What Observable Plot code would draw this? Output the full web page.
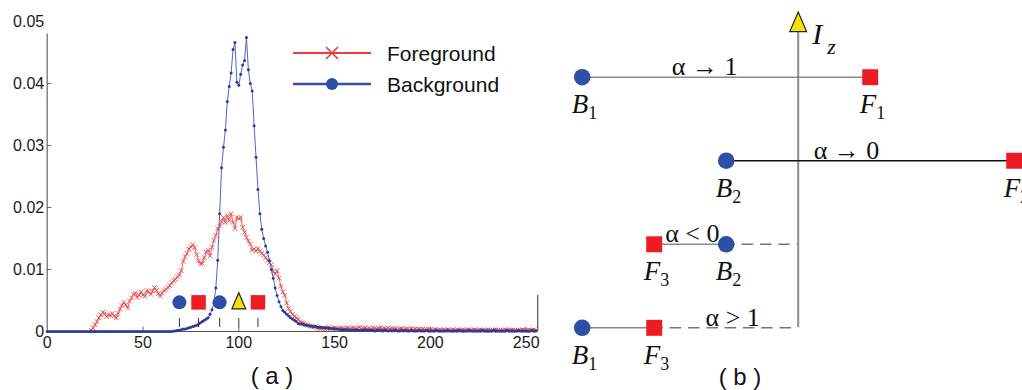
<!DOCTYPE html>
<html>
<head>
<meta charset="utf-8">
<script src="https://cdn.jsdelivr.net/npm/d3@7"></script>
<script src="https://cdn.jsdelivr.net/npm/@observablehq/plot@0.6"></script>
<style>
  html, body { margin: 0; padding: 0; background: #fff; }
  #wrap { position: relative; width: 1022px; height: 390px; overflow: hidden; background: #fff;
          font-family: "Liberation Sans", Arial, sans-serif; color: #111; }
  #chartA { position: absolute; left: 0; top: 0; }
  #chartB { position: absolute; left: 550px; top: 0; }
  .cap { position: absolute; font-size: 24px; line-height: 24px; white-space: pre; transform: translateX(-50%); }
  .legtext { position: absolute; font-size: 21px; line-height: 21px; white-space: pre; }
</style>
</head>
<body>
<div id="wrap">
  <div id="chartA"></div>
  <div id="chartB"></div>
  <svg id="legendSwatch" style="position:absolute;left:290px;top:38px" width="90" height="60">
    <line x1="3" y1="15" x2="81" y2="15" stroke="#ef3b3b" stroke-width="2.2"/>
    <path d="M36,9 L48,21 M48,9 L36,21" stroke="#ef3b3b" stroke-width="1.6" fill="none"/>
    <line x1="3" y1="46" x2="81" y2="46" stroke="#3650a8" stroke-width="2.5"/>
    <circle cx="42" cy="46" r="6" fill="#2f4ca6"/>
  </svg>
  <div class="legtext" style="left:387px;top:43px">Foreground</div>
  <div class="legtext" style="left:387px;top:74px">Background</div>
  <div class="cap" style="left:272px;top:364px">( a )</div>
  <div class="cap" style="left:740px;top:365px">( b )</div>
</div>
<script>
// ---------------- Panel (a) data: normalized histograms over intensity 0..255 ----------------
const levels = Array.from({length: 256}, (_, i) => i);

const foreground = [
  0,0,0,0,0,0,0,0,0,0,0,0,0,0,0,0,
  0,0,0,0,0,0,0,0.0002,0.0006,0.0011,0.0016,0.0022,0.0027,0.0031,0.0029,0.0024,
  0.0027,0.0026,0.0029,0.0025,0.0022,0.0029,0.0036,0.0042,0.0047,0.0043,0.0038,0.0049,0.0054,0.0060,0.0062,0.0055,
  0.0059,0.0064,0.0059,0.0057,0.0066,0.0064,0.0060,0.0065,0.0071,0.0066,0.0061,0.0057,0.0062,0.0066,0.0068,0.0071,
  0.0074,0.0079,0.0082,0.0084,0.0088,0.0091,0.0098,0.0113,0.0121,0.0126,0.0133,0.0137,0.0140,0.0135,0.0124,0.0114,
  0.0109,0.0110,0.0119,0.0128,0.0131,0.0122,0.0136,0.0147,0.0155,0.0166,0.0170,0.0177,0.0184,0.0176,0.0187,0.0179,
  0.0190,0.0176,0.0166,0.0184,0.0182,0.0184,0.0168,0.0160,0.0152,0.0146,0.0141,0.0131,0.0133,0.0130,0.0134,0.0129,
  0.0126,0.0123,0.0119,0.0115,0.0111,0.0108,0.0097,0.0093,0.0098,0.0086,0.0073,0.0064,0.0058,0.0046,0.0037,0.0032,
  0.0028,0.0024,0.0022,0.0020,0.0016,0.0014,0.0013,0.0011,0.0010,0.0009,0.0008,0.0007,0.0008,0.0006,0.0005,0.0005,
  0.0006,0.0004,0.0005,0.0007,0.0005,0.0004,0.0006,0.0005,0.0004,0.0006,0.0005,0.0004,0.0005,0.0006,0.0004,0.0005,
  0.0006,0.0004,0.0005,0.0007,0.0004,0.0005,0.0006,0.0004,0.0005,0.0004,0.0006,0.0005,0.0004,0.0005,0.0006,0.0004,
  0.0005,0.0004,0.0006,0.0004,0.0005,0.0004,0.0005,0.0003,0.0004,0.0005,0.0003,0.0004,0.0004,0.0003,0.0005,0.0003,
  0.0004,0.0003,0.0004,0.0003,0.0004,0.0003,0.0003,0.0004,0.0003,0.0002,0.0003,0.0003,0.0002,0.0003,0.0002,0.0003,
  0.0002,0.0003,0.0002,0.0002,0.0003,0.0002,0.0003,0.0002,0.0002,0.0003,0.0002,0.0002,0.0003,0.0002,0.0002,0.0003,
  0.0002,0.0002,0.0003,0.0002,0.0002,0.0002,0.0003,0.0002,0.0002,0.0002,0.0003,0.0002,0.0002,0.0002,0.0002,0.0003,
  0.0002,0.0002,0.0002,0.0003,0.0002,0.0002,0.0002,0.0002,0.0003,0.0002,0.0002,0.0002,0.0002,0.0002,0.0003,0.0002
];

const background = [
  0,0,0,0,0,0,0,0,0,0,0,0,0,0,0,0,
  0,0,0,0,0,0,0,0,0,0,0,0,0,0,0,0,
  0,0,0,0,0,0,0,0,0,0,0,0,0,0,0,0,
  0,0,0,0,0,0,0,0,0,0,0,0,0,0,0,0,
  0,0,0.0001,0.0001,0.0002,0.0002,0.0003,0.0004,0.0004,0.0005,0.0006,0.0007,0.0008,0.0009,0.0010,0.0012,
  0.0014,0.0016,0.0018,0.0020,0.0022,0.0028,0.0035,0.0046,0.0070,0.0115,0.0190,0.0264,0.0297,0.0325,0.0371,0.0395,
  0.0417,0.0455,0.0466,0.0402,0.0397,0.0415,0.0430,0.0437,0.0474,0.0422,0.0400,0.0388,0.0332,0.0281,0.0229,0.0190,
  0.0165,0.0150,0.0138,0.0128,0.0114,0.0100,0.0086,0.0070,0.0058,0.0048,0.0040,0.0034,0.0031,0.0028,0.0025,0.0022,
  0.0020,0.0018,0.0016,0.0013,0.0012,0.0012,0.0011,0.0010,0.0010,0.0009,0.0009,0.0008,0.0008,0.0007,0.0007,0.0007,
  0.0006,0.0006,0.0006,0.0005,0.0005,0.0005,0.0004,0.0004,0.0004,0.0003,0.0003,0.0003,0.0003,0.0003,0.0002,0.0002,
  0.0002,0.0003,0.0002,0.0002,0.0002,0.0002,0.0003,0.0002,0.0002,0.0002,0.0002,0.0001,0.0002,0.0002,0.0002,0.0001,
  0.0002,0.0002,0.0001,0.0002,0.0001,0.0002,0.0002,0.0001,0.0001,0.0002,0.0001,0.0002,0.0001,0.0001,0.0002,0.0001,
  0.0001,0.0001,0.0002,0.0001,0.0001,0.0001,0.0002,0.0001,0.0001,0.0001,0.0001,0.0002,0.0001,0.0001,0.0001,0.0001,
  0.0001,0.0002,0.0001,0.0001,0.0001,0.0001,0.0001,0.0002,0.0001,0.0001,0.0001,0.0001,0.0002,0.0001,0.0001,0.0001,
  0.0001,0.0001,0.0001,0.0002,0.0001,0.0001,0.0001,0.0001,0.0001,0.0002,0.0001,0.0001,0.0001,0.0001,0.0001,0.0001,
  0.0002,0.0001,0.0001,0.0001,0.0001,0.0001,0.0002,0.0001,0.0001,0.0001,0.0001,0.0001,0.0001,0.0002,0.0001,0.0001
];

const xTicks = [0, 50, 100, 150, 200, 250];
const yTicks = [0, 0.01, 0.02, 0.03, 0.04, 0.05];
const yTickLabels = ["0", "0.01", "0.02", "0.03", "0.04", "0.05"];

// sample intensities marked under the histogram
const bgSamples = [69, 90];
const fgSamples = [79, 110];
const izSample = [100];
const sampleY = 0.0047;

// ---------------- Panel (b) data: diagram of the alpha cases ----------------
const caseLabels = ["α → 1", "α → 0", "α < 0", "α > 1"];
const bLevel = [0, 2, 2, 0];     // background intensity (diagram units)
const fLevel = [4, 6, 1, 1];     // foreground intensity (diagram units)
const bSub = ["1", "2", "2", "1"];
const fSub = ["1", "2", "3", "3"];
const izLevel = 3;               // I_z intensity (diagram units)
const alphaAt = [1.7, 3.67, 1.53, 2.09];
const axisTop = -0.55;

// custom isoceles triangle symbol
const tallTriangle = {
  draw(ctx, size) {
    const r = Math.sqrt(size / Math.PI);
    const w = 2.3 * r, h = 2.7 * r;
    ctx.moveTo(0, -0.6 * h);
    ctx.lineTo(w / 2, 0.4 * h);
    ctx.lineTo(-w / 2, 0.4 * h);
    ctx.closePath();
  }
};

// ---------------- Panel (a) ----------------
const histo = levels.map((v, i) => ({v, fg: foreground[i], bg: background[i]}));

const chartA = Plot.plot({
  width: 545,
  height: 356,
  marginLeft: 46.7,
  marginRight: 7.8,
  marginTop: 21,
  marginBottom: 25,
  style: {fontSize: "16px", fontFamily: "'Liberation Sans', Arial, sans-serif", color: "#1a1a1a", background: "transparent", overflow: "visible"},
  x: {domain: [0, 256]},
  y: {domain: [0, 0.05]},
  marks: [
    Plot.axisX({ticks: xTicks, tickSize: 0, tickPadding: 5.5, label: null}),
    Plot.axisY({ticks: yTicks, tickSize: 0, tickPadding: 3, label: null,
                tickFormat: (d) => yTickLabels[yTicks.indexOf(d)]}),
    Plot.ruleX([0], {y1: 0, y2: 0.048, stroke: "#666", strokeWidth: 1.2}),
    Plot.ruleY([0], {x1: 0, x2: 256, stroke: "#555", strokeWidth: 1.2}),
    Plot.ruleX([256], {y1: 0, y2: 0.0058, stroke: "#555", strokeWidth: 1.2}),
    Plot.ruleY(yTicks.slice(1, 5), {x1: 0, x2: 2.4, stroke: "#666"}),
    Plot.ruleX(xTicks.slice(1), {y1: 0, y2: 0.0007, stroke: "#666"}),
    Plot.line(histo, {x: "v", y: "fg", stroke: "#f06868", strokeWidth: 1.1}),
    Plot.dot(histo.filter(d => d.fg > 0), {x: "v", y: "fg", symbol: "times", r: 2.2, stroke: "#ea4a4a", strokeWidth: 0.9}),
    Plot.line(histo, {x: "v", y: "bg", stroke: "#5565c0", strokeWidth: 1}),
    Plot.dot(histo, {x: "v", y: "bg", r: 1.5, fill: "#2b3b9b"}),
    Plot.ruleX([...bgSamples, ...fgSamples, ...izSample], {y1: 0.00065, y2: 0.0021, stroke: "#333", strokeWidth: 1}),
    Plot.dot(bgSamples, {x: d => d, y: sampleY, r: 7, fill: "#2e4da3"}),
    Plot.dot(fgSamples, {x: d => d, y: sampleY, symbol: "square", r: 8.2, fill: "#ee1c25"}),
    Plot.dot(izSample, {x: d => d, y: sampleY, symbol: tallTriangle, r: 6, fill: "#f2e400", stroke: "#222", strokeWidth: 1.2})
  ]
});
document.getElementById("chartA").appendChild(chartA);

// ---------------- Panel (b) ----------------
const cases = caseLabels.map((label, i) => ({row: i, label, b: bLevel[i], f: fLevel[i], bs: bSub[i], fs: fSub[i], at: alphaAt[i]}));
const serif = "'Liberation Serif', 'Times New Roman', serif";

const chartB = Plot.plot({
  width: 472,
  height: 390,
  margin: 0,
  style: {background: "transparent", overflow: "visible", fontFamily: serif},
  x: {domain: [0, 6], range: [31.7, 463.7], axis: null},
  y: {domain: [0, 3], range: [76.7, 327.3], axis: null},
  marks: [
    Plot.ruleX([izLevel], {y1: axisTop, y2: 3, stroke: "#8c8c8c", strokeWidth: 2}),
    Plot.ruleY(cases.filter(d => Math.max(d.b, d.f) < izLevel), {
      y: "row", x1: d => Math.max(d.b, d.f), x2: izLevel,
      stroke: "#777", strokeWidth: 1.4, strokeDasharray: "11.5,6.8", strokeDashoffset: 2.3}),
    Plot.ruleY(cases, {y: "row", x1: "b", x2: "f", stroke: d => d.row === 1 ? "#111" : "#8a8a8a", strokeWidth: 1.6}),
    Plot.dot(cases, {x: "b", y: "row", r: 8.3, fill: "#2e4fa5"}),
    Plot.dot(cases, {x: "f", y: "row", symbol: "square", r: 9, fill: "#ed1c24"}),
    Plot.dot([izLevel], {x: d => d, y: -0.64, symbol: tallTriangle, r: 7.3, fill: "#f2e400", stroke: "#222", strokeWidth: 1.2}),
    Plot.text([izLevel], {x: d => d, y: -0.64, text: () => "I", textAnchor: "start", lineAnchor: "bottom", dx: 14, dy: 20, fontSize: 30, fontStyle: "italic", fill: "#111"}),
    Plot.text([izLevel], {x: d => d, y: -0.64, text: () => "z", textAnchor: "start", lineAnchor: "bottom", dx: 29, dy: 30, fontSize: 22, fontStyle: "italic", fill: "#111"}),
    Plot.text(cases, {x: "at", y: "row", text: "label", textAnchor: "middle", lineAnchor: "bottom", dy: -2, fontSize: 26, fill: "#111"}),
    Plot.text(cases, {x: "b", y: "row", text: () => "B", textAnchor: "end", lineAnchor: "bottom", dx: 6, dy: 36, fontSize: 27, fontStyle: "italic", fill: "#111"}),
    Plot.text(cases, {x: "b", y: "row", text: "bs", textAnchor: "start", lineAnchor: "bottom", dx: 6, dy: 42, fontSize: 18, fill: "#111"}),
    Plot.text(cases, {x: "f", y: "row", text: () => "F", textAnchor: "end", lineAnchor: "bottom", dx: 6, dy: 36, fontSize: 27, fontStyle: "italic", fill: "#111"}),
    Plot.text(cases, {x: "f", y: "row", text: "fs", textAnchor: "start", lineAnchor: "bottom", dx: 6, dy: 42, fontSize: 18, fill: "#111"})
  ]
});
document.getElementById("chartB").appendChild(chartB);
</script>
</body>
</html>
